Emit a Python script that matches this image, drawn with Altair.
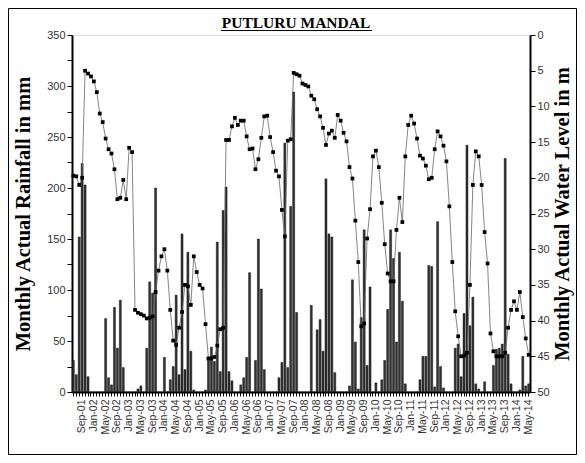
import altair as alt
import pandas as pd

# Monthly categories: Jun-01 .. May-14
months = list(pd.date_range("2001-06-01", periods=156, freq="MS").strftime("%b-%y"))

rainfall = [
    31, 17, 152, 224, 203, 15, 0, 0, 0, 0,
    0, 72, 14, 7, 83, 43, 90, 24, 0, 0,
    0, 0, 3, 6, 0, 43, 108, 97, 200, 0,
    0, 34, 0, 12, 25, 95, 17, 155, 22, 137,
    40, 2, 0, 0, 0, 2, 33, 44, 30, 147,
    20, 178, 201, 20, 11, 0, 0, 7, 14, 34,
    117, 0, 31, 150, 101, 22, 0, 0, 0, 0,
    14, 29, 244, 24, 182, 294, 78, 0, 0, 0,
    0, 85, 0, 61, 71, 40, 209, 155, 152, 19,
    0, 0, 0, 0, 6, 110, 49, 3, 73, 159,
    26, 103, 0, 9, 0, 12, 31, 81, 159, 131,
    49, 137, 89, 8, 0, 0, 0, 0, 12, 35,
    35, 124, 123, 5, 167, 25, 4, 0, 0, 0,
    43, 47, 15, 77, 242, 65, 93, 8, 3, 0,
    10, 0, 0, 26, 42, 43, 47, 229, 37, 8,
    0, 0, 2, 35, 6, 8,
]

water_level = [
    19.7, 19.8, 21.0, 20.0, 5.0, 5.4, 5.8, 6.5, 8.0, 11.0,
    12.2, 14.5, 16.0, 16.6, 18.8, 23.0, 22.8, 20.3, 23.0, 15.8,
    16.4, 38.5, 38.9, 39.1, 39.3, 39.7, 39.6, 39.4, 36.0, 33.0,
    31.0, 30.0, 33.0, 38.5, 42.8, 43.4, 41.0, 38.8, 35.0, 35.2,
    37.8, 31.0, 33.2, 35.0, 35.5, 40.5, 45.3, 45.3, 45.1, 43.5,
    41.2, 41.0, 14.7, 14.7, 12.8, 11.6, 12.6, 12.0, 12.0, 14.2,
    16.0, 15.9, 18.8, 17.4, 14.4, 11.4, 11.3, 14.3, 16.4, 19.0,
    19.8, 24.5, 28.2, 14.8, 14.6, 5.3, 5.5, 5.7, 6.8, 7.0,
    7.2, 8.5, 9.0, 10.4, 11.4, 13.0, 15.4, 13.8, 13.4, 14.4,
    11.2, 12.0, 13.7, 14.9, 18.5, 20.1, 26.0, 31.8, 40.8, 40.4,
    28.5, 24.4, 17.0, 16.2, 18.5, 23.5, 29.3, 33.4, 34.5, 34.5,
    27.3, 22.8, 26.2, 17.0, 12.6, 11.3, 12.4, 14.5, 16.9, 17.3,
    18.3, 20.2, 20.0, 16.0, 13.5, 14.2, 15.5, 17.7, 24.0, 31.8,
    38.7, 42.2, 45.0, 44.9, 44.5, 35.0, 21.0, 16.3, 17.0, 21.0,
    27.6, 32.0, 41.8, 44.3, 45.0, 45.0, 45.0, 44.5, 41.0, 38.5,
    37.3, 38.5, 36.0, 39.5, 42.5, 44.8,
]

rain_ticks = list(range(0, 351, 25))
level_ticks = list(range(0, 51, 5))
chart_title = "PUTLURU MANDAL"

df = pd.DataFrame({"month": months, "rain": rainfall, "level": water_level})

W, H = 458, 357
SANS = "Liberation Sans"
SERIF = "Liberation Serif"

x_enc = alt.X(
    "month:N",
    sort=months,
    title=None,
    scale=alt.Scale(paddingInner=0.3, paddingOuter=0.1),
    axis=alt.Axis(
        labelExpr="indexof(['Jan','May','Sep'], slice(datum.value, 0, 3)) >= 0 ? datum.value : ''",
        labelAngle=270,
        labelAlign="right",
        labelBaseline="middle",
        labelFont=SANS,
        labelFontSize=10.5,
        labelColor="#333",
        labelPadding=3,
        labelOverlap=False,
        tickSize=4,
        tickColor="black",
        domainColor="black",
        domainWidth=2,
        grid=False,
    ),
)

bars = alt.Chart(df).mark_bar(color="#333", stroke="#000", strokeWidth=0.4).encode(
    x=x_enc,
    y=alt.Y(
        "rain:Q",
        scale=alt.Scale(domain=[0, 350], nice=False, zero=True),
        axis=alt.Axis(
            values=rain_ticks,
            labelExpr="datum.value % 50 == 0 ? datum.label : ''",
            title="Monthly Actual Rainfall in mm",
            titleFont=SERIF,
            titleFontSize=20.5,
            titleFontWeight="bold",
            titleColor="black",
            titlePadding=13,
            labelFont=SANS,
            labelFontSize=11,
            labelColor="#333",
            tickSize=5,
            tickColor="black",
            domainColor="black",
            domainWidth=2,
            grid=False,
        ),
    ),
)

line = alt.Chart(df).mark_line(
    color="#666",
    strokeWidth=0.8,
    point=alt.OverlayMarkDef(shape="square", filled=True, color="black", size=14, opacity=1),
).encode(
    x=alt.X("month:N", sort=months),
    y=alt.Y(
        "level:Q",
        scale=alt.Scale(domain=[0, 50], reverse=True, nice=False, zero=True),
        axis=alt.Axis(
            orient="right",
            values=level_ticks,
            title="Monthly Actual Water Level in m",
            titleAngle=270,
            titleBaseline="top",
            titleFont=SERIF,
            titleFontSize=20.5,
            titleFontWeight="bold",
            titleColor="black",
            titlePadding=3,
            labelFont=SANS,
            labelFontSize=11,
            labelColor="#333",
            tickSize=5,
            tickColor="black",
            domainColor="black",
            domainWidth=2,
            grid=False,
        ),
    ),
)

deco = alt.Data(values=[{"t": chart_title}])
frame = alt.Chart(deco).mark_rect(fill="transparent", stroke="black", strokeWidth=1).encode(
    x=alt.value(-63.5), x2=alt.value(504.5), y=alt.value(-26.5), y2=alt.value(419.5)
)
title_text = alt.Chart(deco).mark_text(
    font=SERIF, fontSize=15.5, fontWeight="bold", color="black",
    align="center", baseline="alphabetic",
).encode(text="t:N", x=alt.value(224), y=alt.value(-7))
underline = alt.Chart(deco).mark_rule(color="black", strokeWidth=1).encode(
    x=alt.value(149), x2=alt.value(300), y=alt.value(-4.5)
)

chart = (
    alt.layer(bars, line, frame, title_text, underline)
    .resolve_scale(y="independent")
    .properties(
        width=W,
        height=H,
        padding={"left": 64, "top": 27, "right": 47, "bottom": 63},
        autosize=alt.AutoSizeParams(type="none"),
    )
    .configure_view(stroke="black", strokeWidth=1.5)
    .configure(background="white")
)

chart.save("out.html", embed_options={"renderer": "svg", "actions": False})
